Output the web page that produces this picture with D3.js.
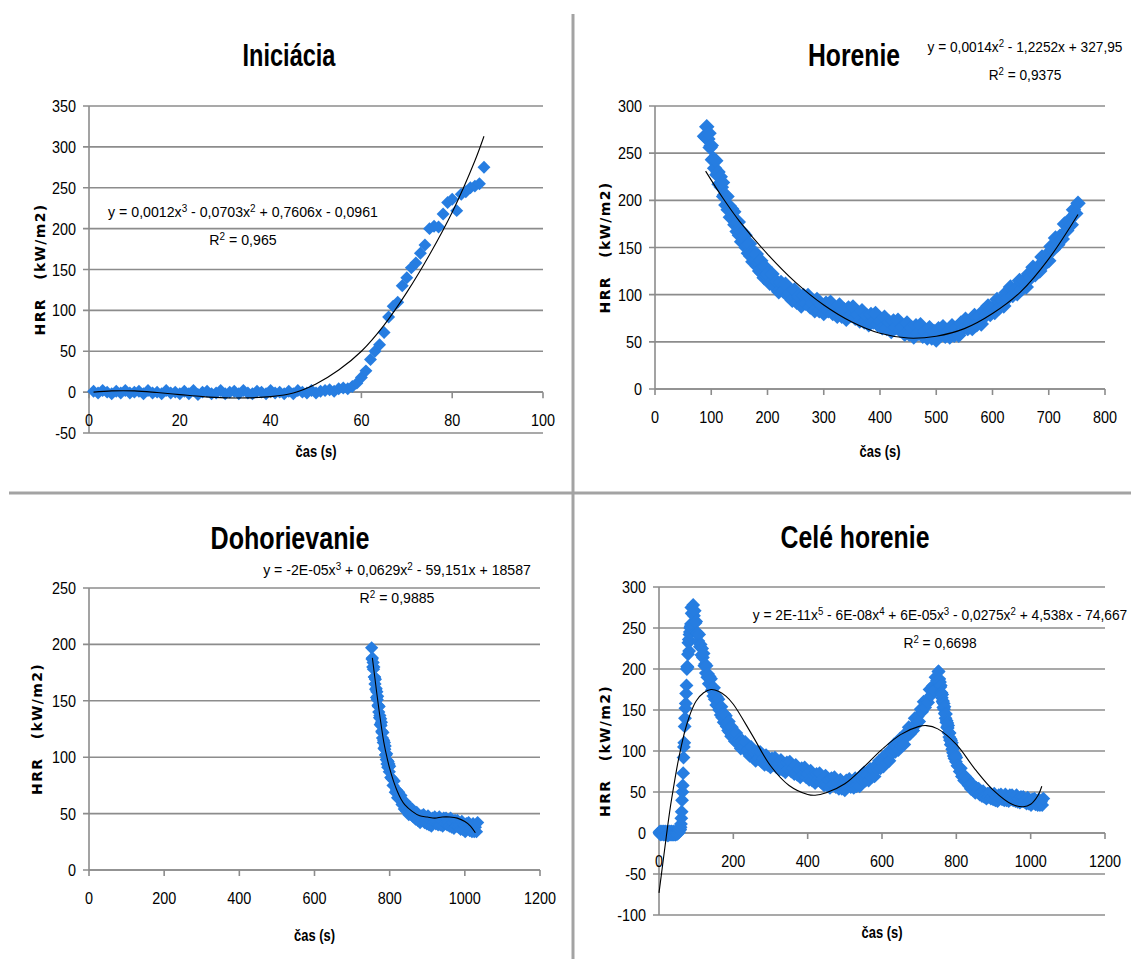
<!DOCTYPE html>
<html>
<head>
<meta charset="utf-8">
<title>HRR - fázy horenia</title>
<script src="https://cdn.jsdelivr.net/npm/d3@7"></script>
<style>
  html, body { margin:0; padding:0; background:#fff; }
  svg { display:block; }
  text { font-family: "Liberation Sans", Arial, sans-serif; fill:#000; }
</style>
</head>
<body>
<svg id="chart" width="1131" height="959"></svg>
<script>
// ---- data (cas [s], HRR [kW/m2]) ----
var iniTime = d3.range(1, 88); // one sample per second
var iniHRR = [1,-1,2,0,-2,1,-1,2,-1,0,1,-2,2,-1,0,-2,2,-1,0,-2,1,-2,2,-3,0,1,-2,-1,2,-2,0,1,-2,2,-1,-2,1,0,-2,2,
  -1,0,-2,1,-2,2,0,-1,2,-1,1,2,3,1,4,5,4,
  7,11,18,26,40,50,58,73,92,105,110,130,140,152,158,170,180,200,203,202,218,232,236,222,242,245,250,252,255,275];

// every 2nd second on the steep start, then every 4th second
var horTime = d3.range(88, 200, 2).concat(d3.range(200, 753, 4));
var horHRR = [268,267,278,265,271,256,258,243,244,234,242,227,230,217,225,214,219,204,206,195,
  204,190,194,182,191,181,188,174,177,167,177,163,168,156,166,156,163,150,153,144,
  154,141,146,135,145,136,143,130,134,125,136,123,129,118,129,120,
  122,112,122,109,114,103,113,104,111,99,102,94,
  105,92,98,88,99,91,99,87,91,83,95,83,89,80,91,83,92,80,85,77,
  89,77,84,74,86,78,87,75,79,72,83,71,78,68,79,71,80,68,72,65,
  76,64,71,61,72,65,73,62,66,58,70,58,65,55,67,59,68,56,61,54,
  65,54,61,52,64,57,66,56,61,55,67,57,65,57,70,64,74,64,70,64,
  78,68,77,69,83,78,88,79,86,81,95,86,95,88,102,97,108,99,106,101,
  115,106,115,108,122,118,129,121,129,125,140,132,142,136,151,148,160,153,162,159,
  175,168,179,174,190,186,197];

// every second on the steep fall, then every 3rd second
var doTime = d3.range(752, 800, 1).concat(d3.range(800, 1035, 3));
var doHRR = [197,187,188,180,184,178,180,171,171,165,169,160,161,153,158,151,154,146,145,140,
  145,135,137,129,134,128,131,123,122,117,122,113,115,108,113,107,110,102,102,98,
  103,94,97,91,96,91,94,87,
  92,82,81,75,79,69,71,64,69,63,66,58,59,54,60,52,55,49,55,50,54,47,49,45,
  51,44,47,42,48,44,49,42,44,41,48,40,44,39,46,42,47,41,43,40,
  47,40,44,39,46,41,46,40,42,39,46,38,42,37,44,39,44,38,40,36,
  43,36,40,34,41,37,42,35,37,34,41,34,38,34,42];

// trendlines
var iniTrendT = [1,5,10,15,20,25,30,35,40,45,50,55,60,65,70,75,80,85,87];
var iniTrendY = [0,1.5,1.5,-0.5,-3,-5.5,-7,-7,-5.5,-1,10,27,50,82,122,168,220,283,313];
var horTrendT = [90,120,150,200,250,300,350,400,450,500,550,600,650,700,752];
var horTrendY = [231,203,178,143,113,89,71,59,54,56,64,80,103,138,185];
var doTrendT = [754,760,766,772,778,784,790,800,810,820,830,840,860,880,900,920,940,960,980,1000,1015,1028];
var doTrendY = [188,172,156,141,127,114,104,90,79,70,63,58,52,48,47,46,47,47,46,43,39,33];
var celTrendT = [0,10,20,30,40,50,60,70,80,90,100,120,140,160,180,200,250,300,350,400,420,450,500,550,600,650,700,720,750,800,850,900,950,980,1000,1020,1030];
var celTrendY = [-73,-38,-3,30,58,84,106,125,140,152,161,171,175,173,167,157,120,82,58,47,46,49,60,80,102,120,130,131,127,108,78,52,35,32,35,46,57];

// axis ticks
var xTicks100 = [0,20,40,60,80,100];
var xTicks800 = [0,100,200,300,400,500,600,700,800];
var xTicks1200 = [0,200,400,600,800,1000,1200];
var yTicksIni = [-50,0,50,100,150,200,250,300,350];
var yTicksHor = [0,50,100,150,200,250,300];
var yTicksDo = [0,50,100,150,200,250];
var yTicksCel = [-100,-50,0,50,100,150,200,250,300];

var titles = ["Iniciácia", "Horenie", "Dohorievanie", "Celé horenie"];
var equations = [
  ["y = 0,0012x^3 - 0,0703x^2 + 0,7606x - 0,0961", "R^2 = 0,965"],
  ["y = 0,0014x^2 - 1,2252x + 327,95", "R^2 = 0,9375"],
  ["y = -2E-05x^3 + 0,0629x^2 - 59,151x + 18587", "R^2 = 0,9885"],
  ["y = 2E-11x^5 - 6E-08x^4 + 6E-05x^3 - 0,0275x^2 + 4,538x - 74,667", "R^2 = 0,6698"]
];
var xLabel = "čas (s)";
var yLabel = "HRR   (kW/m2)";

function pairs(t, v) { return t.map(function(d, i) { return [d, v[i]]; }); }

var iniPts = pairs(iniTime, iniHRR);
var horPts = pairs(horTime, horHRR);
var doPts = pairs(doTime, doHRR);
var celPts = iniPts.concat(horPts, doPts);

var svg = d3.select("#chart");
var gridColor = "#8c8c8c";
var blue = "#267de1";

var diamond = {
  draw: function(ctx, size) {
    var r = Math.sqrt(size / 2);
    ctx.moveTo(0, -r); ctx.lineTo(r, 0); ctx.lineTo(0, r); ctx.lineTo(-r, 0); ctx.closePath();
  }
};

// frame separators
svg.append("line").attr("x1", 573).attr("x2", 573).attr("y1", 14).attr("y2", 959)
  .attr("stroke", "#a3a3a3").attr("stroke-width", 3);
svg.append("line").attr("x1", 9).attr("x2", 1131).attr("y1", 493).attr("y2", 493)
  .attr("stroke", "#a3a3a3").attr("stroke-width", 3);

// text squeezed horizontally, like the narrow original
function addText(parent, str, x, y, o) {
  var g = parent.append("g").attr("transform", "translate(" + x + "," + y + ")");
  var t = g.append("text").attr("text-anchor", o.anchor || "middle")
    .style("font-size", o.size + "px").style("font-weight", o.bold ? "bold" : "normal");
  var parts = str.split(/\^(\d)/);
  parts.forEach(function(p, i) {
    if (i % 2 === 0) {
      t.append("tspan").attr("dy", i ? 5 : 0).text(p);
    } else {
      t.append("tspan").attr("dy", -5).style("font-size", (o.size * 0.7) + "px").text(p);
    }
  });
  var sx = o.width ? o.width / t.node().getBBox().width : (o.sx || 1);
  t.attr("transform", "scale(" + sx + ",1)");
  return sx;
}

function drawPanel(p) {
  var g = svg.append("g");
  var x = d3.scaleLinear().domain(p.xDomain).range([p.left, p.right]);
  var y = d3.scaleLinear().domain(p.yDomain).range([p.bottom, p.top]);

  // horizontal gridlines
  g.selectAll(".grid").data(p.yTicks).join("line")
    .attr("x1", p.left - 6).attr("x2", p.right)
    .attr("y1", function(d) { return y(d); }).attr("y2", function(d) { return y(d); })
    .attr("stroke", gridColor).attr("stroke-width", 1.6);

  // y axis line
  g.append("line").attr("x1", p.left).attr("x2", p.left).attr("y1", p.top).attr("y2", p.bottom)
    .attr("stroke", gridColor).attr("stroke-width", 1.6);

  // x axis at y = 0
  var y0 = y(0);
  g.append("line").attr("x1", p.left).attr("x2", p.right).attr("y1", y0).attr("y2", y0)
    .attr("stroke", gridColor).attr("stroke-width", 1.6);
  g.selectAll(".xt").data(p.xTicks).join("line")
    .attr("x1", function(d) { return x(d); }).attr("x2", function(d) { return x(d); })
    .attr("y1", y0).attr("y2", y0 + 6)
    .attr("stroke", gridColor).attr("stroke-width", 1.6);

  p.xTicks.forEach(function(d) {
    addText(g, String(d), x(d), y0 + 34, { size: 16, sx: 0.9 });
  });
  p.yTicks.forEach(function(d) {
    addText(g, String(d), p.left - 13, y(d) + 6, { size: 16, sx: 0.9, anchor: "end" });
  });

  // markers
  var sym = d3.symbol().type(diamond).size(p.msize);
  g.append("g").selectAll("path").data(p.points).join("path")
    .attr("d", sym)
    .attr("transform", function(d) { return "translate(" + x(d[0]) + "," + y(d[1]) + ")"; })
    .attr("fill", blue);

  // trendline
  var line = d3.line().x(function(d) { return x(d[0]); }).y(function(d) { return y(d[1]); })
    .curve(d3.curveCatmullRom);
  g.append("path").datum(p.trend).attr("d", line)
    .attr("fill", "none").attr("stroke", "#000").attr("stroke-width", 1.1);

  // titles
  addText(g, p.title, p.titleX, p.titleY, { size: 32, bold: true, width: p.titleW });
  addText(g, xLabel, (p.left + p.right) / 2, p.xLabelY, { size: 16, bold: true, width: 41 });
  g.append("text")
    .attr("transform", "translate(" + p.yLabelX + "," + ((p.top + p.bottom) / 2) + ") rotate(-90)")
    .attr("text-anchor", "middle").attr("dominant-baseline", "central")
    .style("font-family", "'DejaVu Sans', sans-serif").style("font-size", "14px")
    .style("font-weight", "bold").style("white-space", "pre").style("letter-spacing", "1.3px")
    .text(yLabel);

  var sx = addText(g, p.eq[0], p.eqX, p.eqY, { size: 15, width: p.eqW });
  addText(g, p.eq[1], p.eqX, p.eqY + 28, { size: 15, sx: sx });
}

drawPanel({
  left: 89, right: 543, top: 106, bottom: 433,
  xDomain: [0, 100], yDomain: [-50, 350], xTicks: xTicks100, yTicks: yTicksIni,
  points: iniPts, trend: pairs(iniTrendT, iniTrendY), msize: 84,
  title: titles[0], titleX: 289, titleY: 66, titleW: 93, xLabelY: 457, yLabelX: 40,
  eq: equations[0], eqX: 243, eqY: 217, eqW: 270
});
drawPanel({
  left: 655, right: 1105, top: 106, bottom: 389,
  xDomain: [0, 800], yDomain: [0, 300], xTicks: xTicks800, yTicks: yTicksHor,
  points: horPts, trend: pairs(horTrendT, horTrendY), msize: 120,
  title: titles[1], titleX: 854, titleY: 66, titleW: 92, xLabelY: 457, yLabelX: 605,
  eq: equations[1], eqX: 1025, eqY: 52, eqW: 195
});
drawPanel({
  left: 89, right: 540, top: 588, bottom: 870,
  xDomain: [0, 1200], yDomain: [0, 250], xTicks: xTicks1200, yTicks: yTicksDo,
  points: doPts, trend: pairs(doTrendT, doTrendY), msize: 88,
  title: titles[2], titleX: 290, titleY: 549, titleW: 159, xLabelY: 941, yLabelX: 37,
  eq: equations[2], eqX: 397, eqY: 575, eqW: 268
});
drawPanel({
  left: 659, right: 1105, top: 587, bottom: 915,
  xDomain: [0, 1200], yDomain: [-100, 300], xTicks: xTicks1200, yTicks: yTicksCel,
  points: celPts, trend: pairs(celTrendT, celTrendY), msize: 96,
  title: titles[3], titleX: 855, titleY: 548, titleW: 149, xLabelY: 938, yLabelX: 605,
  eq: equations[3], eqX: 940, eqY: 620, eqW: 375
});
</script>
</body>
</html>
